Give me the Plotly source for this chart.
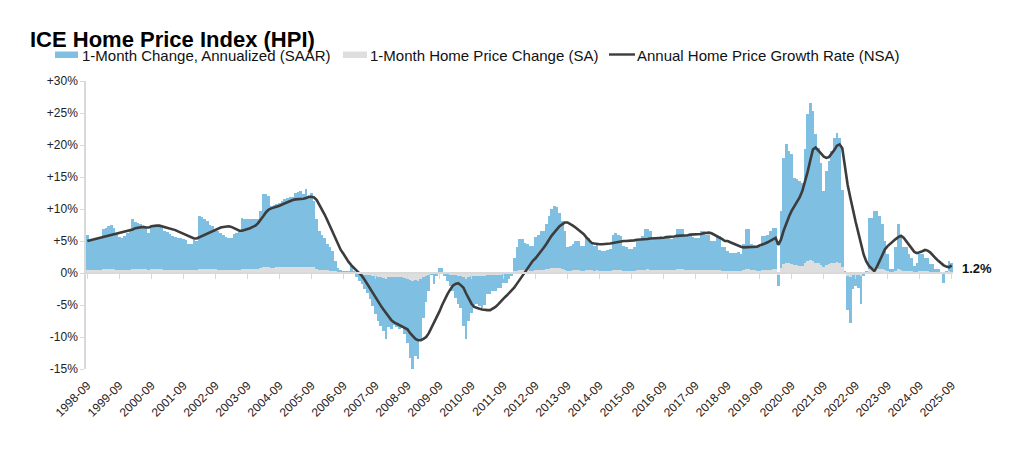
import plotly.graph_objects as go
import pandas as pd

# ---------------- data ----------------
months = [d.strftime("%Y-%m") for d in pd.date_range("1998-09-01", periods=325, freq="MS")]
tick_labels = [f"{y}-09" for y in range(1998, 2026)]
y_tickvals = [-15, -10, -5, 0, 5, 10, 15, 20, 25, 30]
y_ticktext = ["-15%", "-10%", "-5%", "0%", "+5%", "+10%", "+15%", "+20%", "+25%", "+30%"]

# 1-Month Change, Annualized (SAAR), % — one row per Sep..Aug year
saar = [
    5.9, 5.2, 5.0, 5.2, 5.4, 5.5, 6.9, 7.1, 7.3, 7.5, 7.0, 6.1,
    5.6, 5.5, 5.8, 6.2, 6.6, 8.5, 7.9, 7.8, 7.6, 7.1, 7.1, 6.3,
    7.2, 7.3, 7.4, 7.3, 7.0, 6.6, 6.4, 6.1, 5.8, 5.6, 5.5, 5.4,
    5.3, 5.2, 4.5, 4.6, 5.2, 5.0, 8.9, 8.8, 8.4, 8.2, 7.5, 7.4,
    6.8, 6.5, 6.2, 6.0, 5.7, 5.4, 5.5, 6.1, 6.3, 6.5, 8.6, 8.5,
    8.4, 8.4, 8.4, 8.5, 8.4, 9.7, 12.3, 12.4, 12.0, 10.5, 10.6, 10.8,
    11.0, 11.2, 11.6, 11.7, 11.8, 11.8, 12.5, 12.6, 12.8, 12.3, 13.2, 12.0,
    12.5, 11.2, 8.4, 6.6, 6.0, 5.5, 4.5, 4.0, 3.4, 1.9, 0.8, 0.5,
    0.3, 0.2, 0.3, 1.1, 0.3, -0.7, -1.2, -1.7, -2.5, -3.2, -4.0, -5.2,
    -6.4, -7.5, -8.3, -9.0, -10.3, -8.5, -8.8, -8.2, -8.5, -8.8, -8.6, -9.5,
    -11.0, -13.3, -15.5, -13.0, -13.4, -10.5, -7.0, -4.5, -2.8, -0.3, -1.7, -0.5,
    0.8, 0.8, -0.5, -1.2, -2.0, -2.8, -3.9, -4.9, -5.4, -8.3, -10.3, -7.5,
    -6.2, -5.0, -4.9, -5.2, -5.4, -5.0, -3.3, -3.3, -2.8, -2.8, -2.3, -2.3,
    -1.5, -1.5, -1.0, -0.5, 2.4, 4.0, 5.3, 5.3, 4.7, 4.6, 4.2, 4.2,
    5.6, 6.0, 6.6, 6.6, 7.7, 8.9, 10.0, 10.5, 10.3, 9.4, 8.1, 6.6,
    4.0, 4.2, 4.5, 5.0, 5.0, 4.2, 4.2, 5.5, 5.5, 4.5, 4.2, 4.5,
    3.6, 3.5, 3.5, 3.6, 3.8, 6.0, 6.2, 6.0, 5.8, 4.2, 4.0, 3.8,
    3.8, 4.0, 5.0, 5.3, 5.8, 6.8, 6.9, 6.6, 5.3, 5.3, 5.5, 5.8,
    5.5, 5.5, 5.8, 5.3, 5.5, 6.9, 6.9, 6.9, 6.0, 6.0, 6.0, 5.6,
    5.5, 5.5, 6.6, 6.6, 6.0, 6.0, 5.0, 5.0, 5.8, 5.8, 4.0, 4.0,
    3.4, 3.2, 3.1, 3.1, 3.3, 2.9, 4.5, 6.9, 6.8, 4.5, 4.3, 4.0,
    4.0, 5.8, 5.8, 6.0, 6.5, 7.1, 7.1, -2.0, 9.7, 18.0, 20.1, 19.0,
    18.6, 14.9, 14.7, 14.3, 14.0, 19.3, 24.8, 26.6, 25.3, 21.7, 19.6, 17.2,
    12.8, 15.9, 17.5, 19.0, 21.1, 21.9, 21.1, 13.0, 0.3, -5.8, -7.8, -2.5,
    -2.0, -2.3, -4.9, -0.5, 0.3, 8.6, 8.6, 9.7, 9.7, 8.9, 7.6, 5.0,
    2.9, 0.6, 0.6, 4.0, 7.6, 5.5, 4.0, 4.0, 2.9, 2.4, 1.1, 1.6,
    2.9, 2.9, 2.4, 2.4, 1.4, 1.4, 0.6, 0.6, 0.1, -1.5, 0.3, 1.9, 1.5,
]

# 1-Month Home Price Change (SA), %
sa = [
    0.5, 0.4, 0.4, 0.4, 0.4, 0.5, 0.6, 0.6, 0.6, 0.6, 0.6, 0.5,
    0.5, 0.4, 0.5, 0.5, 0.5, 0.7, 0.6, 0.6, 0.6, 0.6, 0.6, 0.5,
    0.6, 0.6, 0.6, 0.6, 0.6, 0.5, 0.5, 0.5, 0.5, 0.5, 0.4, 0.4,
    0.4, 0.4, 0.4, 0.4, 0.4, 0.4, 0.7, 0.7, 0.7, 0.7, 0.6, 0.6,
    0.6, 0.5, 0.5, 0.5, 0.5, 0.4, 0.4, 0.5, 0.5, 0.5, 0.7, 0.7,
    0.7, 0.7, 0.7, 0.7, 0.7, 0.8, 1.0, 1.0, 1.0, 0.8, 0.8, 0.9,
    0.9, 0.9, 0.9, 0.9, 0.9, 0.9, 1.0, 1.0, 1.0, 1.0, 1.0, 1.0,
    1.0, 0.9, 0.7, 0.5, 0.5, 0.4, 0.4, 0.3, 0.3, 0.2, 0.1, 0.0,
    0.0, 0.0, 0.0, 0.1, 0.0, -0.1, -0.1, -0.1, -0.2, -0.3, -0.3, -0.4,
    -0.5, -0.6, -0.7, -0.8, -0.9, -0.7, -0.7, -0.7, -0.7, -0.7, -0.7, -0.8,
    -0.9, -1.1, -1.3, -1.1, -1.2, -0.9, -0.6, -0.4, -0.2, 0.0, -0.1, 0.0,
    0.1, 0.1, 0.0, -0.1, -0.2, -0.2, -0.3, -0.4, -0.5, -0.7, -0.9, -0.6,
    -0.5, -0.4, -0.4, -0.4, -0.5, -0.4, -0.3, -0.3, -0.2, -0.2, -0.2, -0.2,
    -0.1, -0.1, -0.1, 0.0, 0.2, 0.3, 0.4, 0.4, 0.4, 0.4, 0.3, 0.3,
    0.5, 0.5, 0.5, 0.5, 0.6, 0.7, 0.8, 0.8, 0.8, 0.8, 0.7, 0.5,
    0.3, 0.3, 0.4, 0.4, 0.4, 0.3, 0.3, 0.4, 0.4, 0.4, 0.3, 0.4,
    0.3, 0.3, 0.3, 0.3, 0.3, 0.5, 0.5, 0.5, 0.5, 0.3, 0.3, 0.3,
    0.3, 0.3, 0.4, 0.4, 0.5, 0.5, 0.6, 0.5, 0.4, 0.4, 0.4, 0.5,
    0.4, 0.4, 0.5, 0.4, 0.4, 0.6, 0.6, 0.6, 0.5, 0.5, 0.5, 0.5,
    0.4, 0.4, 0.5, 0.5, 0.5, 0.5, 0.4, 0.4, 0.5, 0.5, 0.3, 0.3,
    0.3, 0.3, 0.3, 0.3, 0.3, 0.2, 0.4, 0.6, 0.6, 0.4, 0.4, 0.3,
    0.3, 0.5, 0.5, 0.5, 0.5, 0.6, 0.6, -0.2, 0.8, 1.4, 1.5, 1.5,
    1.4, 1.2, 1.2, 1.1, 1.1, 1.5, 1.8, 2.0, 1.9, 1.6, 1.5, 1.3,
    1.0, 1.2, 1.4, 1.5, 1.6, 1.7, 1.6, 1.0, 0.0, -0.5, -0.7, -0.2,
    -0.2, -0.2, -0.4, 0.0, 0.0, 0.7, 0.7, 0.8, 0.8, 0.7, 0.6, 0.4,
    0.2, 0.0, 0.0, 0.3, 0.6, 0.4, 0.3, 0.3, 0.2, 0.2, 0.1, 0.1,
    0.2, 0.2, 0.2, 0.2, 0.1, 0.1, 0.0, 0.0, 0.0, -0.1, 0.0, 0.2, 0.1,
]

# Annual Home Price Growth Rate (NSA), %
nsa = [
    5.0, 5.1, 5.2, 5.3, 5.4, 5.5, 5.6, 5.7, 5.8, 5.9, 6.0, 6.1,
    6.2, 6.3, 6.4, 6.5, 6.6, 6.8, 7.0, 7.1, 7.2, 7.2, 7.1, 7.1,
    7.3, 7.4, 7.4, 7.4, 7.3, 7.2, 7.1, 7.0, 6.9, 6.7, 6.5, 6.3,
    6.1, 5.9, 5.7, 5.5, 5.4, 5.4, 5.6, 5.8, 6.0, 6.2, 6.4, 6.6,
    6.8, 7.0, 7.1, 7.2, 7.3, 7.3, 7.2, 7.0, 6.8, 6.6, 6.6, 6.7,
    6.9, 7.0, 7.2, 7.4, 7.8, 8.3, 8.9, 9.5, 9.9, 10.1, 10.2, 10.4,
    10.5, 10.7, 10.9, 11.1, 11.3, 11.4, 11.5, 11.5, 11.5, 11.6, 11.7, 11.9,
    11.9, 11.8, 11.4, 10.7, 9.9, 9.1, 8.2, 7.3, 6.4, 5.4, 4.5, 3.6,
    3.0, 2.3, 1.7, 1.2, 0.8, 0.4, 0.0, -0.5, -1.1, -1.8, -2.5, -3.2,
    -3.9, -4.5, -5.1, -5.7, -6.3, -6.9, -7.4, -7.7, -7.9, -8.1, -8.3, -8.5,
    -8.8, -9.4, -9.9, -10.3, -10.5, -10.5, -10.3, -10.0, -9.4, -8.6, -7.8, -7.0,
    -6.0, -5.0, -4.1, -3.3, -2.6, -2.0, -1.7, -1.6, -1.9, -2.3, -3.2, -4.0,
    -4.8, -5.3, -5.5, -5.6, -5.7, -5.8, -5.8, -5.8, -5.6, -5.3, -4.9, -4.4,
    -4.0, -3.6, -3.2, -2.8, -2.3, -1.7, -1.1, -0.5, 0.2, 0.9, 1.5, 1.9,
    2.3, 2.8, 3.3, 3.9, 4.5, 5.2, 5.8, 6.3, 6.9, 7.3, 7.6, 7.9,
    7.9, 7.7, 7.4, 7.1, 6.8, 6.4, 6.1, 5.6, 5.1, 4.7, 4.6, 4.5,
    4.5, 4.5, 4.5, 4.6, 4.6, 4.7, 4.8, 4.9, 4.9, 5.0, 5.0, 5.0,
    5.1, 5.1, 5.2, 5.2, 5.3, 5.3, 5.3, 5.4, 5.4, 5.4, 5.5, 5.5,
    5.5, 5.6, 5.6, 5.7, 5.7, 5.8, 5.8, 5.9, 5.9, 5.9, 6.0, 6.0,
    6.0, 6.1, 6.1, 6.2, 6.3, 6.3, 6.2, 6.0, 5.8, 5.6, 5.3, 5.0,
    5.0, 4.8, 4.6, 4.4, 4.2, 4.1, 4.0, 4.0, 4.0, 4.0, 4.0, 4.1,
    4.3, 4.4, 4.6, 4.8, 5.0, 5.3, 5.5, 4.4, 5.2, 6.6, 7.8, 8.8,
    9.7, 10.4, 11.0, 11.8, 12.8, 14.2, 15.8, 17.6, 19.3, 19.6, 19.2, 18.7,
    18.2, 18.0, 18.1, 18.6, 19.2, 19.9, 20.1, 19.5, 16.5, 13.8, 11.8, 9.6,
    8.0, 6.3, 4.6, 2.9, 1.8, 1.1, 0.7, 0.3, 1.0, 1.9, 2.9, 3.7,
    4.2, 4.6, 5.0, 5.3, 5.6, 5.8, 5.5, 4.9, 4.3, 3.8, 3.3, 3.1,
    3.2, 3.4, 3.6, 3.5, 3.2, 2.7, 2.3, 1.9, 1.5, 1.2, 1.0, 0.9, 1.2,
]

# ---------------- style / layout ----------------
W, H = 1024, 457
PAGE_OFF = 8                      # page body offset of the figure in the browser
ML, MT = 86 - PAGE_OFF, 81 - PAGE_OFF
PW, PH = 867, 288
MR, MB = W - ML - PW, H - MT - PH
Y_MIN, Y_MAX = -15, 30
FONT = "Liberation Sans, Arial, sans-serif"
BLUE = "#7fbfe2"
GREY = "#dedede"
DARK = "#3c3c3c"
AXIS = "#d9d9d9"

# reference-pixel helpers (plot area left = 86, bottom = 369 on screen)
def px_x(px):
    return (px - 86) / PW


def px_y(py):
    return (369 - py) / PH


fig = go.Figure()
fig.add_trace(go.Bar(x=months, y=saar, name="1-Month Change, Annualized (SAAR)",
                     marker=dict(color=BLUE, line=dict(width=0)), showlegend=False))
fig.add_trace(go.Bar(x=months, y=sa, name="1-Month Home Price Change (SA)",
                     marker=dict(color=GREY, line=dict(width=0)), showlegend=False))
fig.add_trace(go.Scatter(x=months, y=nsa, name="Annual Home Price Growth Rate (NSA)",
                         mode="lines", line=dict(color=DARK, width=2.6),
                         xaxis="x2", yaxis="y", showlegend=False))

xrange = [-0.5, len(months) - 0.5]

# custom legend (decoration)
shapes = [
    dict(type="rect", xref="paper", yref="paper", x0=px_x(55), x1=px_x(78),
         y0=px_y(58), y1=px_y(51.5), fillcolor=BLUE, line=dict(width=0)),
    dict(type="rect", xref="paper", yref="paper", x0=px_x(343), x1=px_x(367),
         y0=px_y(58), y1=px_y(51.5), fillcolor=GREY, line=dict(width=0)),
    dict(type="line", xref="paper", yref="paper", x0=px_x(609), x1=px_x(635),
         y0=px_y(54.5), y1=px_y(54.5), line=dict(color=DARK, width=2.4)),
]
legend_font = dict(family=FONT, size=15, color="#111111")
annotations = [
    dict(xref="paper", yref="paper", x=px_x(80), y=px_y(55), xanchor="left", yanchor="middle",
         text="1-Month Change, Annualized (SAAR)", showarrow=False, font=legend_font),
    dict(xref="paper", yref="paper", x=px_x(368), y=px_y(55), xanchor="left", yanchor="middle",
         text="1-Month Home Price Change (SA)", showarrow=False, font=legend_font),
    dict(xref="paper", yref="paper", x=px_x(635), y=px_y(55), xanchor="left", yanchor="middle",
         text="Annual Home Price Growth Rate (NSA)", showarrow=False, font=legend_font),
    dict(xref="x", yref="y", x=months[-1], y=nsa[-1], xanchor="left", yanchor="middle",
         xshift=8, yshift=-3, text=f"<b>{nsa[-1]:.1f}%</b>", showarrow=False,
         font=dict(family=FONT, size=13, color="#111111")),
]

fig.update_layout(
    width=W, height=H,
    margin=dict(l=ML, r=MR, t=MT, b=MB, autoexpand=False),
    paper_bgcolor="white", plot_bgcolor="white",
    barmode="overlay", bargap=0,
    font=dict(family=FONT, color="#222222"),
    title=dict(text="<b>ICE Home Price Index (HPI)</b>", xref="container", yref="container",
               x=(30 - PAGE_OFF) / W, xanchor="left", y=1 - (39 - PAGE_OFF) / H, yanchor="middle",
               font=dict(family=FONT, size=22, color="#000000")),
    xaxis=dict(type="category", categoryorder="array", categoryarray=months, range=xrange,
               tickmode="array", tickvals=tick_labels, ticktext=tick_labels, tickangle=-45,
               showline=False, ticks="", showgrid=False, zeroline=False, automargin=False,
               ticklabelstandoff=6,
               tickfont=dict(family=FONT, size=12, color="#222222")),
    xaxis2=dict(type="category", categoryorder="array", categoryarray=months, range=xrange,
                overlaying="x", anchor="free", position=(0 - Y_MIN) / (Y_MAX - Y_MIN),
                tickmode="array", tickvals=tick_labels, showticklabels=False,
                ticks="outside", ticklen=5, tickwidth=1, tickcolor=AXIS,
                showline=True, linecolor=AXIS, linewidth=2, showgrid=False, zeroline=False),
    yaxis=dict(range=[Y_MIN, Y_MAX], tickmode="array", tickvals=y_tickvals, ticktext=y_ticktext,
               showgrid=False, zeroline=False, showline=True, linecolor=AXIS, linewidth=1.5,
               ticks="outside", ticklen=4, tickcolor=AXIS, automargin=False,
               tickfont=dict(family=FONT, size=12, color="#222222")),
    shapes=shapes,
    annotations=annotations,
)

fig.write_html("out.html")
